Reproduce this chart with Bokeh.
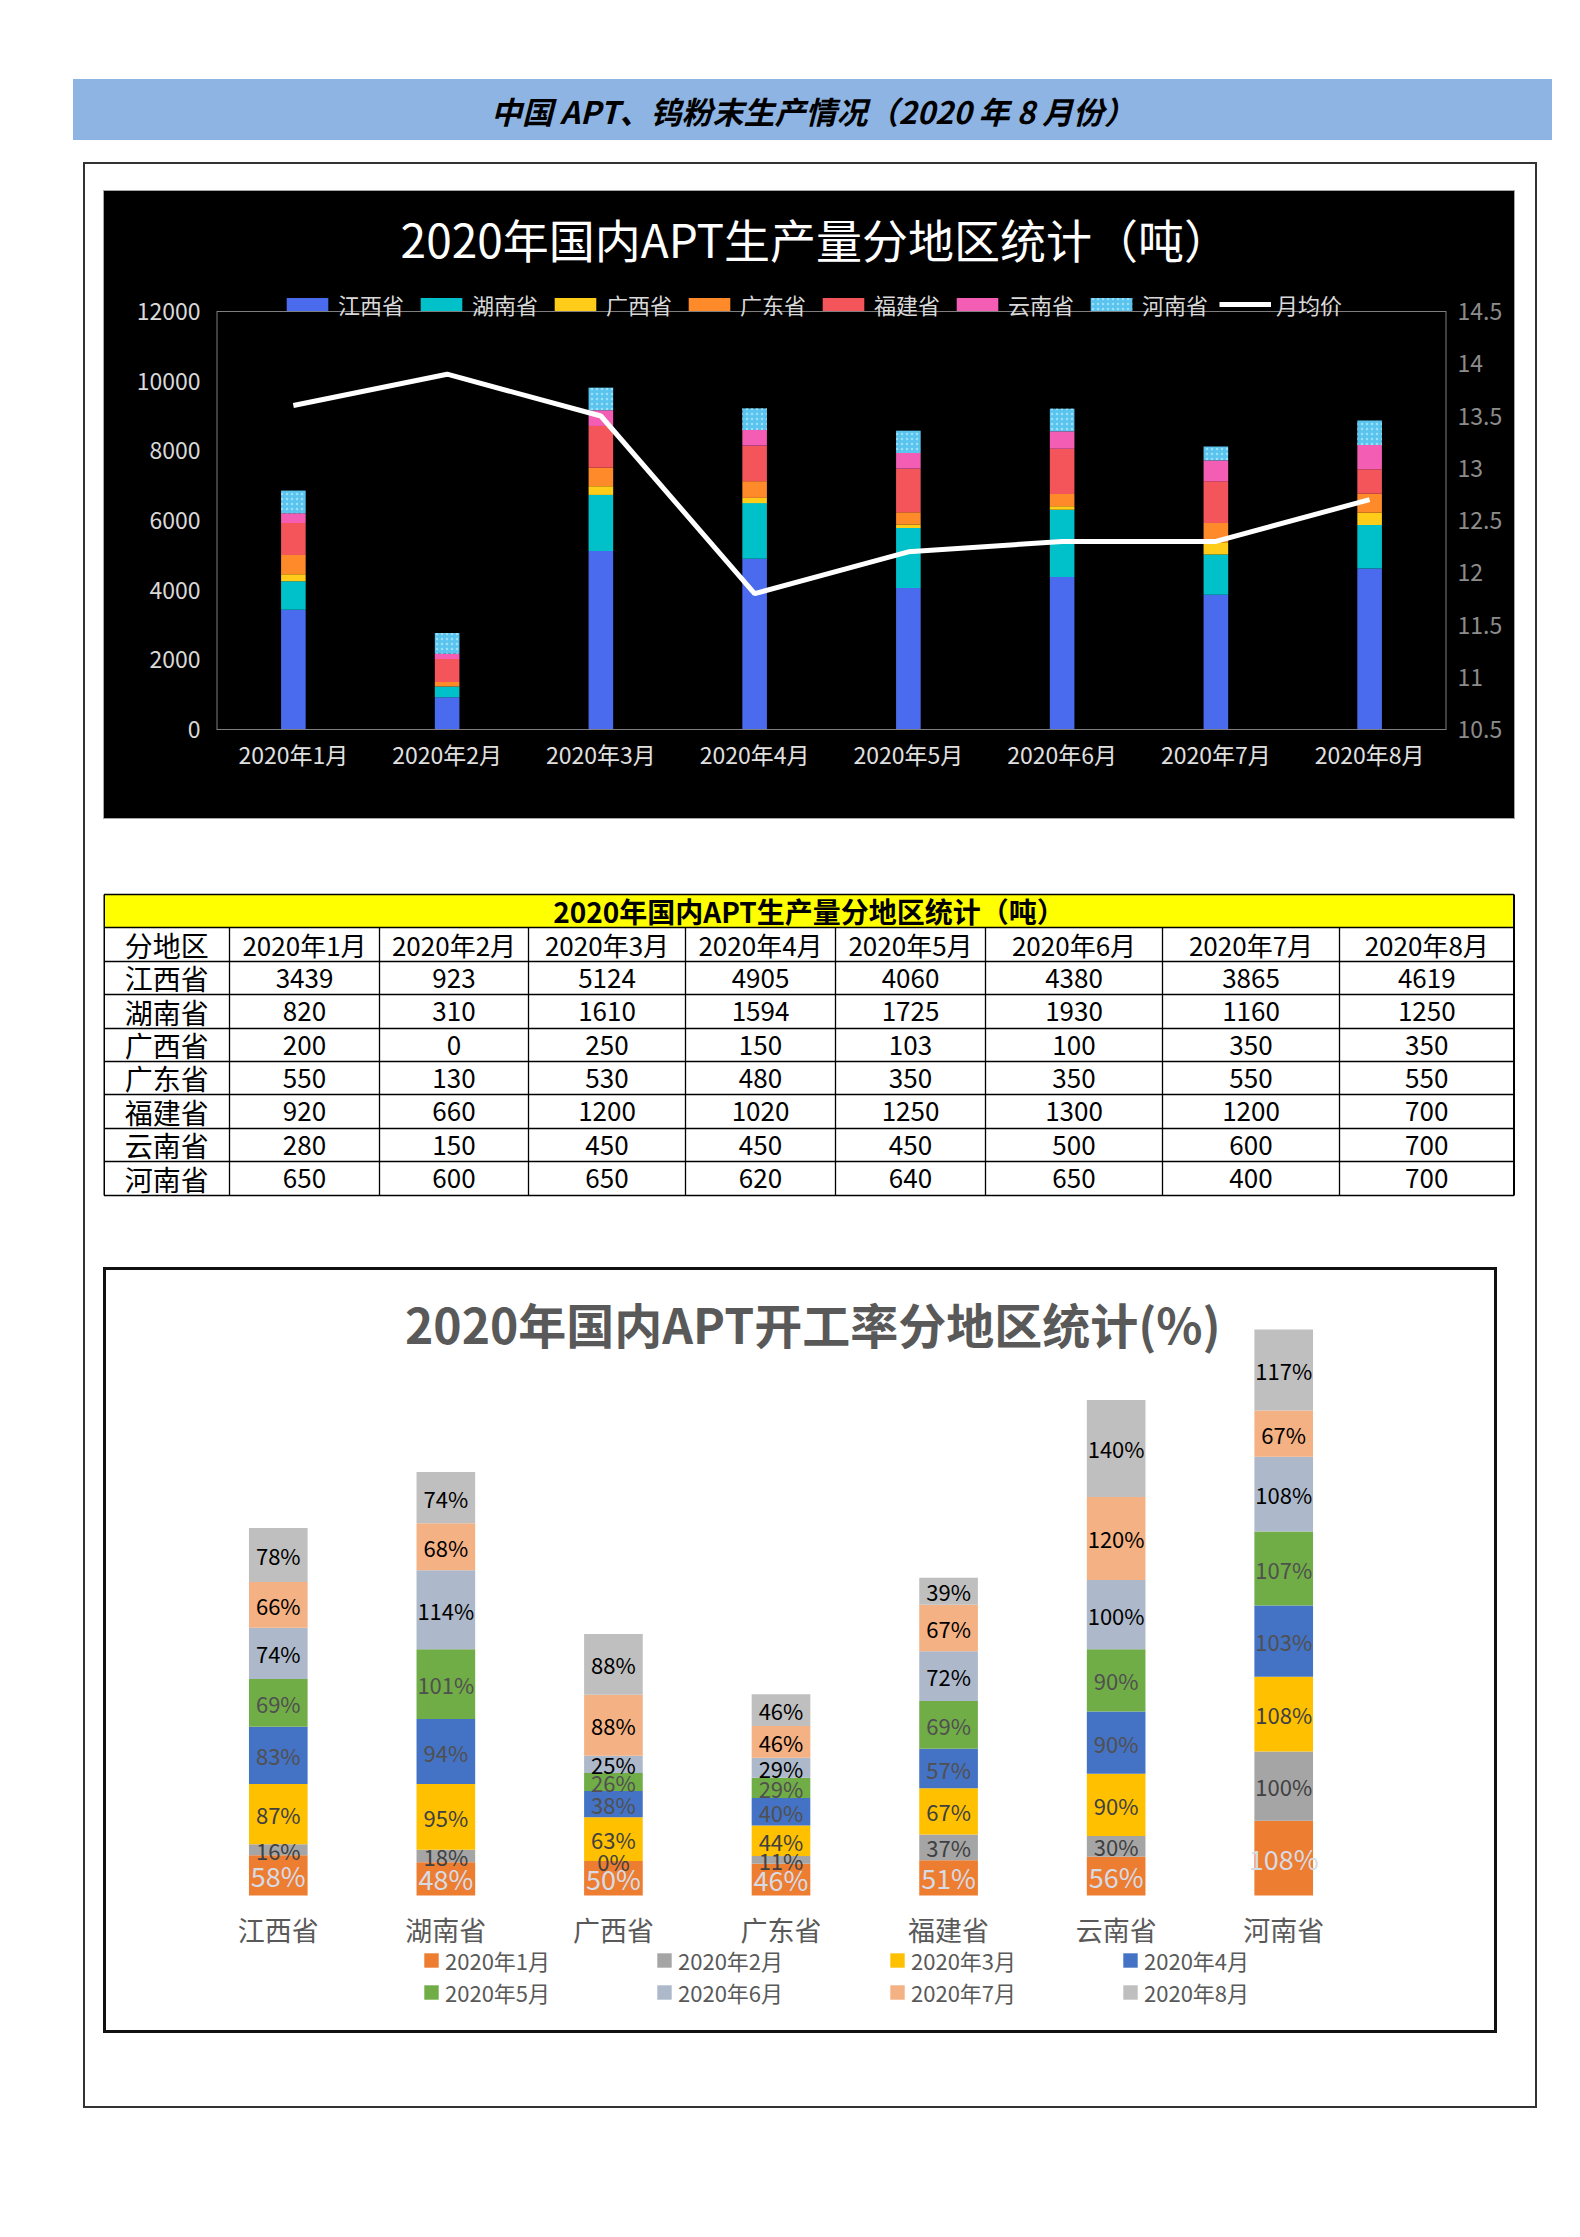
import numpy as np
from bokeh.plotting import figure
from bokeh.models import (ColumnDataSource, Range1d, LinearAxis, Legend, LegendItem,
                          Label, Span, Spacer, FixedTicker, NumeralTickFormatter)
from bokeh.layouts import column, row
from bokeh.embed import file_html
from bokeh.resources import INLINE
from bokeh.core.properties import value

FONT = "Noto Sans CJK SC"

# ---------------- data ----------------
page_title = "中国 APT、钨粉末生产情况（2020 年 8 月份）"
chart1_title = "2020年国内APT生产量分地区统计（吨）"
table_title = "2020年国内APT生产量分地区统计（吨）"
chart3_title = "2020年国内APT开工率分地区统计(%)"

months = ["2020年1月", "2020年2月", "2020年3月", "2020年4月",
          "2020年5月", "2020年6月", "2020年7月", "2020年8月"]
provinces = ["江西省", "湖南省", "广西省", "广东省", "福建省", "云南省", "河南省"]

jiangxi = [3439, 923, 5124, 4905, 4060, 4380, 3865, 4619]
hunan = [820, 310, 1610, 1594, 1725, 1930, 1160, 1250]
guangxi = [200, 0, 250, 150, 103, 100, 350, 350]
guangdong = [550, 130, 530, 480, 350, 350, 550, 550]
fujian = [920, 660, 1200, 1020, 1250, 1300, 1200, 700]
yunnan = [280, 150, 450, 450, 450, 500, 600, 700]
henan = [650, 600, 650, 620, 640, 650, 400, 700]
avg_price = [13.6, 13.9, 13.5, 11.8, 12.2, 12.3, 12.3, 12.7]
price_label = "月均价"
table_corner = "分地区"

ton_ticks = [0, 2000, 4000, 6000, 8000, 10000, 12000]
price_ticks = [10.5, 11, 11.5, 12, 12.5, 13, 13.5, 14, 14.5]

rate_jan = [58, 48, 50, 46, 51, 56, 108]
rate_feb = [16, 18, 0, 11, 37, 30, 100]
rate_mar = [87, 95, 63, 44, 67, 90, 108]
rate_apr = [83, 94, 38, 40, 57, 90, 103]
rate_may = [69, 101, 26, 29, 69, 90, 107]
rate_jun = [74, 114, 25, 29, 72, 100, 108]
rate_jul = [66, 68, 88, 46, 67, 120, 67]
rate_aug = [78, 74, 88, 46, 39, 140, 117]

# ---------------- helpers ----------------
def blk(w, h, color):
    return Spacer(width=w, height=h, styles={"background-color": color})

def sp(w, h):
    return Spacer(width=w, height=h)

def bare(w, h, xr, yr, bg="white"):
    f = figure(width=w, height=h, x_range=xr, y_range=yr, output_backend="svg",
               toolbar_location=None, x_axis_type=None, y_axis_type=None,
               min_border=0, background_fill_color=bg, border_fill_color=bg,
               outline_line_color=None, styles={"background-color": bg})
    f.grid.visible = False
    return f

# ---------------- title bar ----------------
tb = bare(1479, 61, Range1d(0, 1), Range1d(0, 1), bg="#8EB4E3")
tb.text(x=[0.5], y=[0.5], text=[page_title], text_align="center", text_baseline="middle",
        text_font=value(FONT), text_font_size="31px", text_font_style="bold italic",
        text_color="black")

# ---------------- chart 1 ----------------
src1 = ColumnDataSource(data=dict(month=months, jx=jiangxi, hn=hunan, gx=guangxi,
                                  gd=guangdong, fj=fujian, yn=yunnan, hen=henan,
                                  price=avg_price))
keys1 = ["jx", "hn", "gx", "gd", "fj", "yn", "hen"]
colors1 = ["#4B6BEF", "#00C1C9", "#FFCC1A", "#FF8A2A", "#F4555B", "#F45DB4", "#5BC4EE"]

W1, H1 = 1410, 627
FH1 = 538                      # frame height (frame reaches the canvas top)
PX1 = 418.0 / 12000            # pixels per ton
PXP = 418.0 / 4                # pixels per price unit
YMAX = ton_ticks[-1]
p1 = figure(x_range=months, y_range=Range1d(0, FH1 / PX1), width=W1, height=H1,
            output_backend="svg", toolbar_location=None,
            background_fill_color="black", border_fill_color="black",
            min_border_left=112, min_border_right=68, min_border_top=0,
            min_border_bottom=H1 - FH1, outline_line_color=None,
            styles={"background-color": "black"})
p1.grid.visible = False
rs1 = p1.vbar_stack(keys1, x="month", width=0.16, fill_color=colors1, line_color=None,
                    source=src1)
rs1[-1].glyph.hatch_pattern = "dot"
rs1[-1].glyph.hatch_color = "#b5ecff"
rs1[-1].glyph.hatch_scale = 5
rs1[-1].glyph.hatch_alpha = 0.7
p1.extra_y_ranges = {"price": Range1d(price_ticks[0], price_ticks[0] + FH1 / PXP)}
line_r = p1.line(x="month", y="price", y_range_name="price", source=src1,
                 line_color="white", line_width=5)
# plot-area border: top line at the axis maximum, side lines up to it
p1.add_layout(Span(location=YMAX, dimension="width", line_color="#7f7f7f", line_width=1))
n1 = len(months)
p1.segment(x0=[0, n1], x1=[0, n1], y0=[0, 0], y1=[YMAX, YMAX],
           line_color="#7f7f7f", line_width=2)

lax = p1.left[0]
lax.ticker = FixedTicker(ticks=ton_ticks)
lax.axis_line_color = None
lax.major_tick_line_color = None
lax.minor_tick_line_color = None
lax.major_label_text_color = "#d9d9d9"
lax.major_label_text_font = FONT
lax.major_label_text_font_size = "23px"
lax.major_label_standoff = 10

rax = LinearAxis(y_range_name="price", ticker=FixedTicker(ticks=price_ticks),
                 formatter=NumeralTickFormatter(format="0.[0]"))
rax.axis_line_color = None
rax.major_tick_line_color = None
rax.minor_tick_line_color = None
rax.major_label_text_color = "#8c8c8c"
rax.major_label_text_font = FONT
rax.major_label_text_font_size = "23px"
rax.major_label_standoff = 5
p1.add_layout(rax, "right")

bax = p1.below[0]
bax.axis_line_color = "#7f7f7f"
bax.major_tick_line_color = None
bax.minor_tick_line_color = None
bax.major_label_text_color = "#e0e0e0"
bax.major_label_text_font = FONT
bax.major_label_text_font_size = "23px"
bax.major_label_standoff = 1

items1 = [LegendItem(label=n, renderers=[r]) for n, r in zip(provinces, rs1)]
items1.append(LegendItem(label=price_label, renderers=[line_r]))
leg1 = Legend(items=items1, orientation="horizontal", location=(65, 409),
              padding=0, margin=0, spacing=8, glyph_width=52, glyph_height=16,
              label_standoff=5, label_width=69, label_height=26, label_text_font=FONT,
              label_text_font_size="22px", label_text_color="#d9d9d9",
              background_fill_alpha=0, border_line_color=None)
p1.add_layout(leg1, "center")

p1.add_layout(Label(x=3.895, y=(729 - 237) / PX1, text=chart1_title, text_align="center",
                    text_baseline="middle", text_font=FONT, text_font_size="46px",
                    text_color="white"))

# ---------------- table ----------------
tbl = bare(1412, 448, Range1d(0, 1412), Range1d(448, 0))
col_edges = [0.5, 126, 276, 425, 582, 732, 882, 1059, 1236, 1410.5]
row_edges = [75, 108, 142, 175, 209, 242, 275, 309, 342, 376]
tbl.quad(left=[col_edges[0]], right=[col_edges[-1]], top=[row_edges[0]],
         bottom=[row_edges[1]], fill_color="#FFFF00", line_color=None)
tbl.text(x=[(col_edges[0] + col_edges[-1]) / 2], y=[(row_edges[0] + row_edges[1]) / 2],
         text=[table_title], text_align="center", text_baseline="middle",
         text_font=value(FONT), text_font_size="28px", text_font_style="bold",
         text_color="black")
tbl.segment(x0=[col_edges[0]] * len(row_edges), x1=[col_edges[-1]] * len(row_edges),
            y0=row_edges, y1=row_edges, line_color="black", line_width=1.6)
inner_cols = col_edges[1:-1]
tbl.segment(x0=inner_cols, x1=inner_cols, y0=[row_edges[1]] * len(inner_cols),
            y1=[row_edges[-1]] * len(inner_cols), line_color="black", line_width=1.3)
tbl.segment(x0=[col_edges[0], col_edges[-1]], x1=[col_edges[0], col_edges[-1]],
            y0=[row_edges[0]] * 2, y1=[row_edges[-1]] * 2, line_color="black",
            line_width=2)
ccx = [(a + b) / 2 for a, b in zip(col_edges[:-1], col_edges[1:])]
rcy = [(a + b) / 2 for a, b in zip(row_edges[1:-1], row_edges[2:])]
tbl.text(x=[ccx[0]], y=[rcy[0]], text=[table_corner], text_align="center",
         text_baseline="middle", text_font=value(FONT), text_font_size="28px",
         text_color="black")
tbl.text(x=ccx[1:], y=[rcy[0]] * len(months), text=months, text_align="center",
         text_baseline="middle", text_font=value(FONT), text_font_size="26px",
         text_color="black")
series1 = [jiangxi, hunan, guangxi, guangdong, fujian, yunnan, henan]
tbl.text(x=[ccx[0]] * len(provinces), y=rcy[1:], text=provinces, text_align="center",
         text_baseline="middle", text_font=value(FONT), text_font_size="28px",
         text_color="black")
bx, by, bt = [], [], []
for i, vals in enumerate(series1):
    for j, v in enumerate(vals):
        bx.append(ccx[j + 1]); by.append(rcy[i + 1]); bt.append(str(v))
tbl.text(x=bx, y=by, text=bt, text_align="center", text_baseline="middle",
         text_font=value(FONT), text_font_size="26px", text_color="black")

# ---------------- chart 3 ----------------
series3 = [rate_jan, rate_feb, rate_mar, rate_apr, rate_may, rate_jun, rate_jul, rate_aug]
keys3 = ["m%d" % (i + 1) for i in range(8)]
d3 = dict(prov=provinces)
for k, s in zip(keys3, series3):
    d3[k] = s
src3 = ColumnDataSource(data=d3)
colors3 = ["#ED7D31", "#A5A5A5", "#FFC000", "#4472C4", "#70AD47", "#ADB9CA", "#F4B183", "#BFBFBF"]
lab_colors3 = ["#d6dbe6", "#404040", "#404040", "#505050", "#505050", "#000000", "#000000", "#000000"]
lab_sizes3 = ["27px"] + ["22px"] * 7

W3, H3 = 1388, 760
BASE3 = 625                    # canvas y of the zero line
PX3 = 0.692                    # pixels per percent
p3 = figure(x_range=provinces, y_range=Range1d(-(H3 - BASE3) / PX3, BASE3 / PX3),
            width=W3, height=H3, output_backend="svg", toolbar_location=None,
            background_fill_color="white", border_fill_color="white",
            min_border_left=88, min_border_right=127, min_border_top=0,
            min_border_bottom=0, outline_line_color=None,
            styles={"background-color": "white"})
p3.grid.visible = False
p3.yaxis.visible = False
rs3 = p3.vbar_stack(keys3, x="prov", width=0.35, fill_color=colors3, line_color=None,
                    source=src3)
cum = np.zeros(len(provinces))
for vals, lc, fs in zip(series3, lab_colors3, lab_sizes3):
    v = np.array(vals, dtype=float)
    mid = cum + v / 2
    cum = cum + v
    p3.text(x=provinces, y=list(mid), text=["%d%%" % x for x in vals],
            text_align="center", text_baseline="middle", text_font=value(FONT),
            text_font_size=fs, text_color=lc)

xa3 = p3.below[0]
xa3.fixed_location = 0
xa3.axis_line_color = None
xa3.major_tick_line_color = None
xa3.minor_tick_line_color = None
xa3.major_label_text_color = "#595959"
xa3.major_label_text_font = FONT
xa3.major_label_text_font_size = "27px"
xa3.major_label_standoff = 8

p3.add_layout(Label(x=3.69, y=(1895 - 1322) / PX3, text=chart3_title, text_align="center",
                    text_baseline="middle", text_font=FONT, text_font_size="48px",
                    text_font_style="bold", text_color="#595959"))

items3 = [LegendItem(label=m, renderers=[r]) for m, r in zip(months, rs3)]
leg3 = Legend(items=items3, orientation="horizontal", ncols=4, location=(228, 22),
              padding=6, margin=0, spacing=0, glyph_width=18, glyph_height=18,
              label_standoff=5, label_width=210, label_height=25,
              label_text_font=FONT, label_text_font_size="22px",
              label_text_color="#595959", background_fill_alpha=0,
              border_line_color=None)
p3.add_layout(leg3, "center")

# ---------------- layout ----------------
GRAY = "#a6a6a6"
FRAME = "#333333"
DARK = "#111111"
chart1_box = column(blk(1412, 1, GRAY), row(blk(1, 627, GRAY), p1, blk(1, 627, GRAY)),
                    blk(1412, 1, GRAY))
chart3_box = column(blk(1394, 3, DARK), row(blk(3, 760, DARK), p3, blk(3, 760, DARK)),
                    blk(1394, 3, DARK))
inner = column(sp(1450, 26), row(sp(18, 629), chart1_box), row(sp(18, 448), tbl),
               row(sp(18, 766), chart3_box), sp(1450, 73))
framed = column(blk(1454, 2, FRAME), row(blk(2, 1942, FRAME), inner, blk(2, 1942, FRAME)),
                blk(1454, 2, FRAME))
page = column(sp(1552, 79), row(sp(73, 61), tb), sp(1552, 22), row(sp(83, 1946), framed))

open("out.html", "w").write(file_html(page, INLINE))
